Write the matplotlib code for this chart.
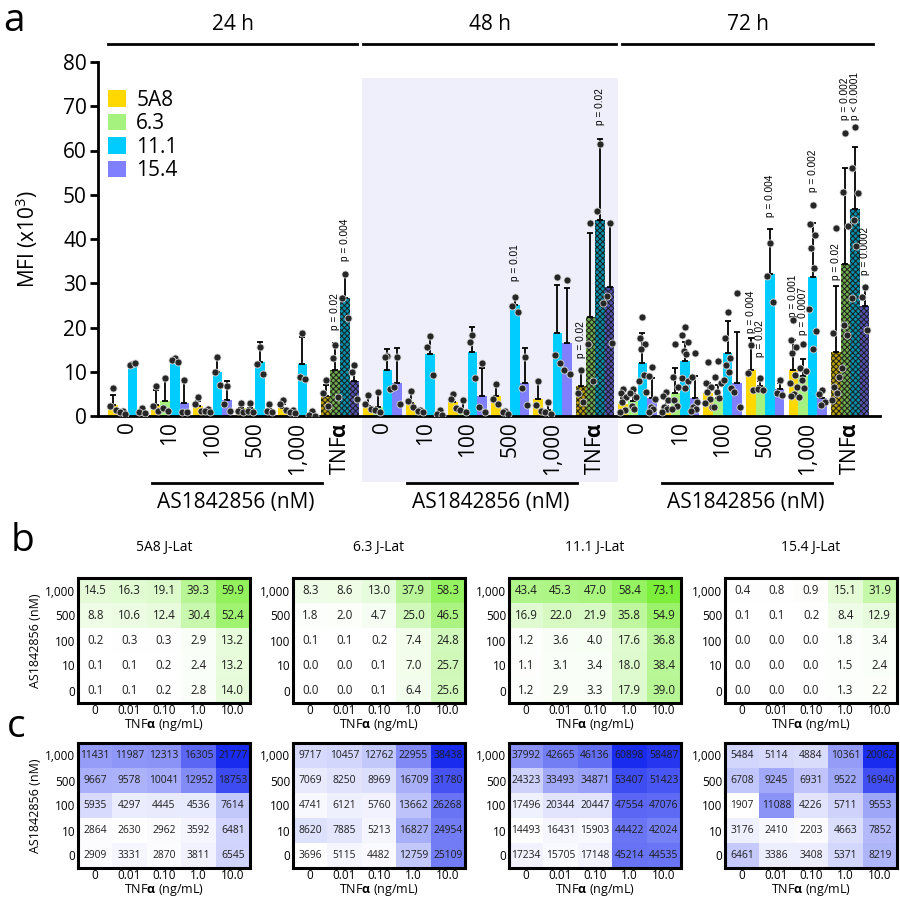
import numpy as np
import matplotlib
matplotlib.use("Agg")
import matplotlib.pyplot as plt
from matplotlib.colors import LinearSegmentedColormap
from matplotlib.patches import Rectangle, Patch

plt.rcParams['font.family'] = ['Open Sans', 'DejaVu Sans']
plt.rcParams['hatch.linewidth'] = 0.7
plt.rcParams['mathtext.fontset'] = 'custom'
plt.rcParams['mathtext.rm'] = 'Open Sans'
plt.rcParams['mathtext.bf'] = 'Open Sans:bold'

# ---------------- panel a data ----------------
lines = ["5A8", "6.3", "11.1", "15.4"]
line_colors = ["#FFD800", "#A6F27E", "#00CCFF", "#8080FF"]
tnf_colors = ["#B59C00", "#6EAA4C", "#0090AC", "#5252B4"]
hours = ["24 h", "48 h", "72 h"]
conditions = ["0", "10", "100", "500", "1,000", "TNF$\\mathbf{α}$"]

# bar heights, rows = 0, 10, 100, 500, 1000 nM, TNFa ; cols = 5A8, 6.3, 11.1, 15.4
mfi_24h = [[2.5, 0.8, 11.5, 1.0],
           [2.5, 3.5, 12.4, 3.0],
           [2.3, 1.3, 9.9, 3.6],
           [1.7, 1.7, 12.3, 1.6],
           [1.7, 1.0, 11.8, 0.5],
           [4.5, 10.5, 26.6, 7.8]]
mfi_48h = [[2.3, 2.1, 10.5, 7.5],
           [2.9, 1.2, 13.9, 0.5],
           [3.2, 1.4, 14.5, 4.5],
           [4.5, 0.8, 25.1, 7.4],
           [3.8, 1.4, 18.7, 16.6],
           [6.8, 22.3, 44.4, 29.1]]
mfi_72h = [[2.6, 3.4, 12.0, 4.1],
           [2.3, 5.1, 12.4, 4.0],
           [5.1, 4.0, 14.2, 7.5],
           [10.5, 6.8, 32.2, 6.0],
           [10.4, 9.0, 31.3, 4.0],
           [14.4, 34.3, 46.7, 24.9]]

sd_24h = [[2.2, 0.4, 0.3, 0.6],
          [3.4, 5.2, 0.6, 5.1],
          [1.2, 0.3, 2.9, 4.2],
          [0.8, 0.8, 4.5, 0.6],
          [1.0, 0.4, 6.0, 0.6],
          [2.5, 5.9, 5.6, 3.7]]
sd_48h = [[2.4, 3.4, 4.6, 7.8],
          [2.2, 0.3, 4.4, 0.5],
          [1.9, 2.2, 5.7, 6.3],
          [2.5, 0.3, 1.9, 7.9],
          [4.3, 1.8, 10.9, 12.3],
          [3.6, 19.1, 18.3, 14.6]]
sd_72h = [[1.5, 1.8, 6.7, 4.5],
          [1.5, 5.7, 4.4, 5.0],
          [2.3, 3.0, 7.3, 11.5],
          [7.1, 1.2, 10.0, 1.5],
          [6.8, 3.8, 12.4, 1.5],
          [15.0, 21.7, 14.0, 4.3]]

pts_24h = [
    [[6.3, 2.2, 1.3], [1.2, 1.0, 0.4], [11.8, 11.6, 11.9], [1.8, 1.0, 0.6]],
    [[6.8, 2.3, 1.2], [8.6, 1.7, 1.2], [13.2, 12.6, 12.2], [8.1, 1.0, 0.8]],
    [[4.2, 2.6, 1.2], [1.5, 1.2, 1.0], [13.4, 10.0, 7.0], [6.8, 2.8, 1.2]],
    [[3.0, 1.2, 1.0], [3.0, 1.2, 1.0], [15.7, 11.8, 9.4], [2.6, 1.2, 1.0]],
    [[3.6, 2.8, 1.3], [1.4, 1.0, 0.6], [18.8, 8.9, 8.4], [1.2, 0.3, 0.1]],
    [[8.2, 5.2, 2.3], [16.0, 13.2, 4.4], [32.2, 26.7, 22.1], [11.5, 10.0, 3.8]],
]
pts_48h = [
    [[4.7, 2.7, 1.5], [5.5, 1.4, 1.0], [13.6, 13.4, 6.0], [13.4, 6.5, 2.6]],
    [[5.6, 3.4, 2.1], [1.4, 1.2, 1.0], [18.1, 15.7, 9.3], [1.4, 0.5, 0.2]],
    [[4.9, 3.8, 1.7], [3.6, 1.4, 0.8], [18.3, 16.7, 8.5], [11.9, 2.1, 0.8]],
    [[7.2, 3.8, 2.6], [1.2, 0.8, 0.4], [27.0, 24.8, 23.6], [13.3, 6.4, 2.5]],
    [[8.0, 2.4, 1.1], [3.2, 1.0, 0.5], [31.3, 13.8, 11.9], [30.7, 10.4, 9.6]],
    [[10.4, 5.1, 3.1], [43.7, 16.3, 7.8], [61.5, 46.3, 25.5], [43.7, 27.1, 16.6]],
]
pts_72h = [
    [[6.0, 5.1, 4.2, 3.2, 1.4, 0.8], [6.0, 5.1, 4.2, 2.3, 1.5],
     [22.3, 17.6, 16.3, 15.1, 9.3, 7.8, 5.5], [11.1, 9.0, 3.8, 2.1, 1.5, 0.8]],
    [[5.5, 4.5, 3.6, 2.1, 1.5, 0.8], [16.3, 8.9, 6.6, 3.6, 2.3, 1.5],
     [20.2, 18.3, 16.8, 14.8, 14.0, 8.5, 8.0, 6.3], [14.2, 8.9, 3.2, 2.1, 1.5, 1.2]],
    [[12.1, 7.4, 6.6, 5.5, 3.8, 3.0, 2.1], [12.5, 8.9, 7.4, 5.5, 4.0, 2.1],
     [23.6, 17.6, 13.0, 11.5, 10.0, 8.1, 6.3], [27.7, 5.5, 2.1]],
    [[16.0, 9.8, 5.8], [8.5, 6.0, 5.9], [39.2, 31.6, 25.8], [8.1, 5.2, 4.7]],
    [[21.7, 17.2, 15.7, 14.2, 9.3, 7.4, 6.6, 5.0, 4.6], [16.3, 10.8, 10.2, 8.1, 6.3, 4.4],
     [47.7, 43.5, 40.9, 37.9, 33.4, 24.1, 19.3, 15.1], [5.9, 5.0, 3.2, 2.5]],
    [[42.4, 18.8, 8.9, 6.6, 5.1, 3.6], [64.0, 50.7, 42.9, 20.6, 18.3, 10.9],
     [65.2, 56.0, 50.3, 44.4, 38.4, 26.6], [29.2, 27.0, 19.4]],
]

# (group index, line index, y of text bottom, label)
p_labels = [
    (5, 1, 19.4, "p = 0.02"), (5, 2, 35.0, "p = 0.004"),
    (9, 2, 30.6, "p = 0.01"), (11, 0, 13.0, "p = 0.02"), (11, 2, 65.8, "p = 0.02"),
    (15, 0, 18.7, "p = 0.004"), (15, 1, 13.4, "p = 0.02"), (15, 2, 45.0, "p = 0.004"),
    (16, 0, 22.4, "p = 0.001"), (16, 1, 18.3, "p = 0.0007"), (16, 2, 50.7, "p = 0.002"),
    (17, 0, 30.7, "p = 0.02"), (17, 1, 67.0, "p = 0.002"), (17, 2, 67.0, "p < 0.0001"),
    (17, 3, 31.9, "p = 0.0002"),
]

# ---------------- panel b / c data ----------------
conc_labels = ["1,000", "500", "100", "10", "0"]
tnf_labels = ["0", "0.01", "0.10", "1.0", "10.0"]
heat_titles = ["5A8 J-Lat", "6.3 J-Lat", "11.1 J-Lat", "15.4 J-Lat"]

pct_5a8 = [[14.5, 16.3, 19.1, 39.3, 59.9], [8.8, 10.6, 12.4, 30.4, 52.4],
           [0.2, 0.3, 0.3, 2.9, 13.2], [0.1, 0.1, 0.2, 2.4, 13.2], [0.1, 0.1, 0.2, 2.8, 14.0]]
pct_63 = [[8.3, 8.6, 13.0, 37.9, 58.3], [1.8, 2.0, 4.7, 25.0, 46.5],
          [0.1, 0.1, 0.2, 7.4, 24.8], [0.0, 0.0, 0.1, 7.0, 25.7], [0.0, 0.0, 0.1, 6.4, 25.6]]
pct_111 = [[43.4, 45.3, 47.0, 58.4, 73.1], [16.9, 22.0, 21.9, 35.8, 54.9],
           [1.2, 3.6, 4.0, 17.6, 36.8], [1.1, 3.1, 3.4, 18.0, 38.4], [1.2, 2.9, 3.3, 17.9, 39.0]]
pct_154 = [[0.4, 0.8, 0.9, 15.1, 31.9], [0.1, 0.1, 0.2, 8.4, 12.9],
           [0.0, 0.0, 0.0, 1.8, 3.4], [0.0, 0.0, 0.0, 1.5, 2.4], [0.0, 0.0, 0.0, 1.3, 2.2]]

mfi_5a8 = [[11431, 11987, 12313, 16305, 21777], [9667, 9578, 10041, 12952, 18753],
           [5935, 4297, 4445, 4536, 7614], [2864, 2630, 2962, 3592, 6481],
           [2909, 3331, 2870, 3811, 6545]]
mfi_63 = [[9717, 10457, 12762, 22955, 38438], [7069, 8250, 8969, 16709, 31780],
          [4741, 6121, 5760, 13662, 26268], [8620, 7885, 5213, 16827, 24954],
          [3696, 5115, 4482, 12759, 25109]]
mfi_111 = [[37992, 42665, 46136, 60898, 58487], [24323, 33493, 34871, 53407, 51423],
           [17496, 20344, 20447, 47554, 47076], [14493, 16431, 15903, 44422, 42024],
           [17234, 15705, 17148, 45214, 44535]]
mfi_154 = [[5484, 5114, 4884, 10361, 20062], [6708, 9245, 6931, 9522, 16940],
           [1907, 11088, 4226, 5711, 9553], [3176, 2410, 2203, 4663, 7852],
           [6461, 3386, 3408, 5371, 8219]]

# ======================================================
fig = plt.figure(figsize=(9, 9), dpi=100)
W, H = 900.0, 900.0

ax = fig.add_axes([98 / W, 1 - 416 / H, (880 - 98) / W, 354 / H])
ax.set_xlim(-0.694, 17.7)
ax.set_ylim(0, 80)

bw = 0.226
jitter = [0.0, -0.28, 0.28, -0.14, 0.14, -0.36, 0.36, 0.05, -0.22]
all_mfi = [mfi_24h, mfi_48h, mfi_72h]
all_sd = [sd_24h, sd_48h, sd_72h]
all_pts = [pts_24h, pts_48h, pts_72h]

for t in range(3):
    for c in range(6):
        g = t * 6 + c
        for j in range(4):
            x = g + (j - 1.5) * bw
            m = all_mfi[t][c][j]
            s = all_sd[t][c][j]
            if c == 5:
                ax.bar(x, m, width=bw, color=tnf_colors[j], edgecolor="#1e1e1e",
                       linewidth=0, hatch="xxxxxx", zorder=2)
            else:
                ax.bar(x, m, width=bw, color=line_colors[j], linewidth=0, zorder=2)
            ax.errorbar(x, m, yerr=[[0], [s]], fmt="none", ecolor="black",
                        elinewidth=1.3, capsize=2.5, capthick=1.3, zorder=3)
            p = all_pts[t][c][j]
            xs = [x + jitter[k % len(jitter)] * bw for k in range(len(p))]
            ax.scatter(xs, p, s=26, color="#262626", edgecolors="#d8d8d8",
                       linewidths=0.6, zorder=4)

for g, j, y, txt in p_labels:
    ax.text(g + (j - 1.5) * bw, y, txt, rotation=90, ha="center", va="bottom",
            fontsize=7.3, family=["Liberation Sans", "DejaVu Sans"])

# 48 h shading
xt = ax.get_xaxis_transform()
ax.add_patch(Rectangle((5.52, -0.186), 6.02, 1.141, transform=xt, facecolor="#EFEFFB",
                       edgecolor="none", zorder=0, clip_on=False))

# brackets and headers
top_spans = [(-0.46, 5.40), (5.54, 11.49), (11.64, 17.54)]
for (x0, x1), lab in zip(top_spans, hours):
    ax.plot([x0, x1], [1.051, 1.051], transform=xt, color="black", lw=2, clip_on=False)
    ax.text((x0 + x1) / 2, 1.105, lab, transform=xt, ha="center", va="center", fontsize=15)
for t in range(3):
    x0 = t * 6 + 0.58
    ax.plot([x0, x0 + 4.0], [-0.189, -0.189], transform=xt, color="black", lw=2, clip_on=False)
    ax.text(t * 6 + 2.55, -0.243, "AS1842856 (nM)", transform=xt, ha="center",
            va="center", fontsize=15)

ax.set_xticks(range(18))
ax.set_xticklabels(conditions * 3, rotation=90, va="top", ha="center", fontsize=15)
ax.tick_params(axis="x", length=0, pad=4)
ax.set_yticks(range(0, 81, 10))
ax.tick_params(axis="y", labelsize=15, length=6, width=2, pad=2)
for sp in ["top", "right"]:
    ax.spines[sp].set_visible(False)
for sp in ["left", "bottom"]:
    ax.spines[sp].set_linewidth(2)
ax.set_ylabel("MFI (x10$^3$)", fontsize=15)
ax.yaxis.set_label_coords(-0.074, 0.5)

handles = [Patch(facecolor=c, edgecolor="none", label=l) for c, l in zip(line_colors, lines)]
ax.legend(handles=handles, loc="upper left", bbox_to_anchor=(0.013, 0.922), frameon=False,
          fontsize=15, handlelength=0.85, handleheight=0.85, handletextpad=0.5,
          labelspacing=0.12, borderaxespad=0, borderpad=0)

# ---------------- heatmaps ----------------
green = LinearSegmentedColormap.from_list("grn", ["#FFFFFF", "#7BEF3A"])
blue = LinearSegmentedColormap.from_list("blu", ["#FFFFFF", "#1A2BF0"])

lefts = [78, 293, 509, 725]
hw, hh = 172, 125


def heatmap(left, top, vals, cmap, vmin, vmax, fmt, cell_fs, title=None, ylabel=False):
    hax = fig.add_axes([left / W, 1 - (top + hh) / H, hw / W, hh / H])
    arr = np.array(vals, dtype=float)
    hax.imshow(arr, cmap=cmap, vmin=vmin, vmax=vmax, aspect="auto")
    for r in range(arr.shape[0]):
        for c in range(arr.shape[1]):
            hax.text(c, r, fmt.format(arr[r, c]), ha="center", va="center",
                     fontsize=cell_fs, color="#1e1e1e")
    hxt = hax.get_xaxis_transform()
    for c, lab in enumerate(tnf_labels):
        hax.text(c, -7.5 / hh, lab, transform=hxt, ha="center", va="center", fontsize=8.5)
    hax.text(0.5, -22 / hh, "TNF$\\mathbf{α}$ (ng/mL)", transform=hax.transAxes,
             ha="center", va="center", fontsize=9)
    hax.set_xticks([])
    hax.set_yticks(range(5))
    hax.set_yticklabels(conc_labels, fontsize=8.5)
    hax.tick_params(axis="y", length=0, pad=2)
    if ylabel:
        hax.set_ylabel("AS1842856 (nM)", fontsize=9, labelpad=2)
    if title:
        hax.text(0.5, 1.24, title, transform=hax.transAxes, ha="center", va="center",
                 fontsize=10)
    for sp in hax.spines.values():
        sp.set_linewidth(2.2)
    return hax


pct_sets = [pct_5a8, pct_63, pct_111, pct_154]
mfi_sets = [mfi_5a8, mfi_63, mfi_111, mfi_154]
for k in range(4):
    heatmap(lefts[k], 578, pct_sets[k], green, 0, 73.1, "{:.1f}", 8.3, heat_titles[k], k == 0)
    m = np.array(mfi_sets[k])
    heatmap(lefts[k], 743, mfi_sets[k], blue, m.min(), m.max(), "{:.0f}", 7.4, None, k == 0)

fig.text(0.004, 0.998, "a", fontsize=28, va="top")
fig.text(0.012, 1 - 522 / H, "b", fontsize=28, va="top")
fig.text(0.008, 1 - 708 / H, "c", fontsize=28, va="top")

fig.savefig("out.png", dpi=100)
